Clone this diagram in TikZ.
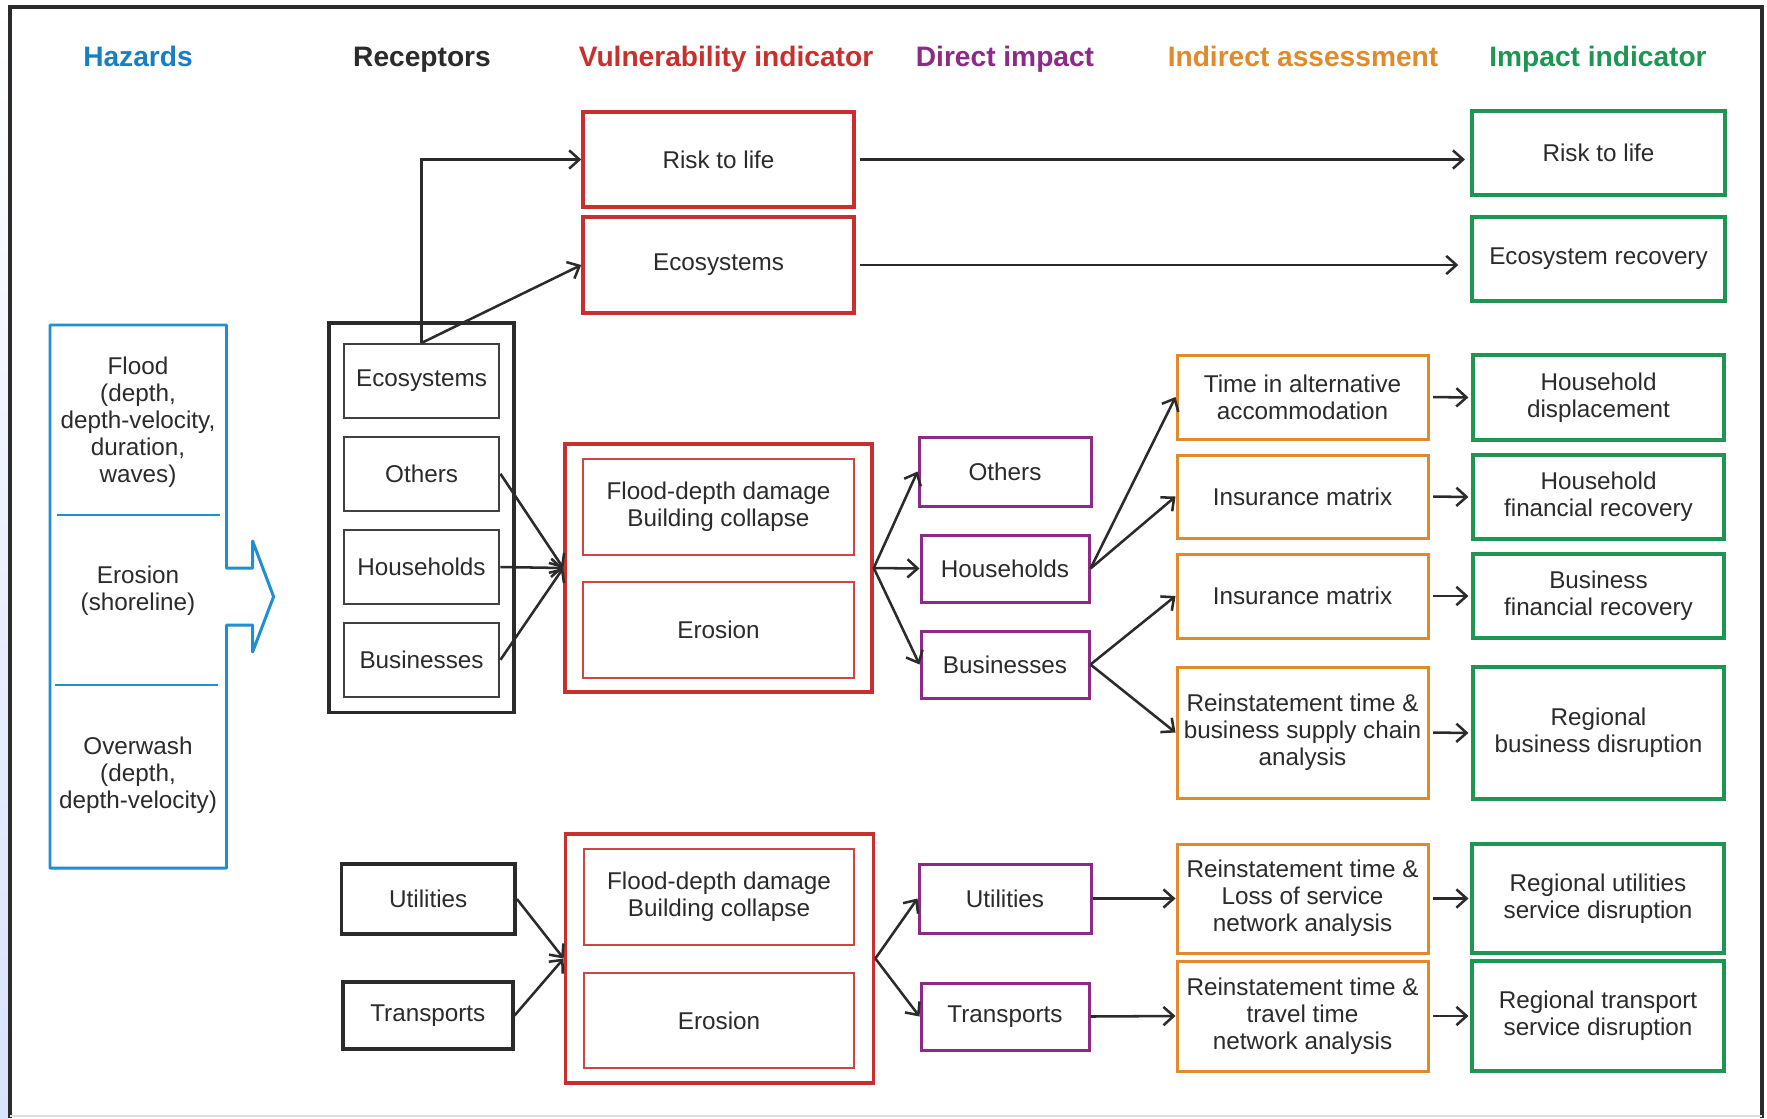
\documentclass[tikz,border=0pt]{standalone}
\usepackage{fontspec}
\setmainfont{Liberation Sans}
\usetikzlibrary{arrows.meta}

\definecolor{cblue}{HTML}{1F8FCF}
\definecolor{chead}{HTML}{1A7FC0}
\definecolor{cred}{HTML}{C8302F}
\definecolor{cpur}{HTML}{8B2A87}
\definecolor{cora}{HTML}{E08A2C}
\definecolor{cgrn}{HTML}{1E9552}
\definecolor{ctxt}{HTML}{2B2B2B}

\tikzset{
 base/.style={draw, inner sep=0pt, align=center, text=ctxt, font=\fontsize{6.9}{7.7}\selectfont},
 redout/.style={base, draw=cred, line width=1pt},
 redin/.style={base, draw=cred!90, line width=0.45pt},
 purbox/.style={base, draw=cpur, line width=0.85pt},
 orabox/.style={base, draw=cora, line width=0.85pt},
 grnbox/.style={base, draw=cgrn, line width=1pt},
 blkout/.style={base, draw=ctxt, line width=1.1pt},
 blkin/.style={base, draw=ctxt!90, line width=0.6pt},
 hztxt/.style={inner sep=0pt, align=center, text=ctxt, font=\fontsize{6.9}{7.7}\selectfont},
 head/.style={font=\fontsize{8}{9.6}\selectfont\bfseries, inner sep=0pt, anchor=base},
 conn/.style={draw=ctxt, line width=0.72pt, -{Straight Barb[length=2.9pt,width=5.2pt]}},
}

\newcommand\bx[7]{\node[#6, minimum width={(#4-(#2))*0.01cm}, minimum height={(#5-(#3))*0.01cm}] (#1) at ({(#2+#4)/2},{(#3+#5)/2}) {#7};}

\begin{document}
\begin{tikzpicture}[x=0.01cm, y=-0.01cm]
\useasboundingbox (0,0) rectangle (1767,1118);
\fill[white] (0,0) rectangle (1767,1118);
\shade[top color=white, bottom color=cyan!25!blue!15] (0,0) rectangle (8,1118);
\draw[line width=1.1pt, draw=ctxt] (10,1118) -- (10,7) -- (1762,7) -- (1762,1118);
\draw[line width=0.3pt, draw=gray!25] (10,1116) -- (1762,1116);

% headers
\node[head, text=chead] (hH) at (138,66) {Hazards};
\node[head, text=ctxt] (hR) at (422,66) {Receptors};
\node[head, text=cred] (hV) at (726,66) {Vulnerability indicator};
\node[head, text=cpur] (hD) at (1005,66) {Direct impact};
\node[head, text=cora] (hI) at (1303,66) {Indirect assessment};
\node[head, text=cgrn] (hM) at (1598,66) {Impact indicator};

% hazards block
\draw[cblue, line width=0.85pt, line join=round]
 (50,325) -- (226.5,325) -- (226.5,568) -- (252.6,568) -- (252.6,541) -- (273.6,596.6)
 -- (252.6,652) -- (252.6,625) -- (226.5,625) -- (226.5,868) -- (50,868) -- cycle;
\draw[cblue, line width=0.45pt] (57,515) -- (220,515);
\draw[cblue, line width=0.45pt] (55,685) -- (218,685);
\node[hztxt] (hz1) at (138,422) {Flood\\(depth,\\depth-velocity,\\duration,\\waves)};
\node[hztxt] (hz2) at (138,591) {Erosion\\(shoreline)};
\node[hztxt] (hz3) at (138,775) {Overwash\\(depth,\\depth-velocity)};

% top rows
\bx{vrisk}{583}{112}{854}{207}{redout}{Risk to life}
\bx{veco}{583}{217}{854}{313}{redout}{Ecosystems}
\bx{irisk}{1472}{111}{1725}{195}{grnbox}{Risk to life}
\bx{ieco}{1472}{217}{1725}{301}{grnbox}{Ecosystem recovery}

% receptors group
\bx{rgrp}{329}{323}{514}{712.5}{blkout}{}
\bx{reco}{343.7}{344}{499.4}{418}{blkin}{Ecosystems}
\bx{roth}{343.7}{436.6}{499.4}{511}{blkin}{Others}
\bx{rhou}{343.7}{530}{499.4}{604}{blkin}{Households}
\bx{rbus}{343.7}{622.6}{499.4}{697}{blkin}{Businesses}

% vulnerability group 1
\bx{vg1}{565}{444}{872}{692}{redout}{}
\bx{vfd1}{583}{459}{854}{555}{redin}{Flood-depth damage\\Building collapse}
\bx{ver1}{583}{582}{854}{678}{redin}{Erosion}

% direct impact 1
\bx{doth}{919}{437}{1091}{506}{purbox}{Others}
\bx{dhou}{921}{535}{1089}{602}{purbox}{Households}
\bx{dbus}{921}{631}{1089}{698}{purbox}{Businesses}

% indirect 1
\bx{ialt}{1177}{355}{1428}{439}{orabox}{Time in alternative\\accommodation}
\bx{iins1}{1177}{455}{1428}{538}{orabox}{Insurance matrix}
\bx{iins2}{1177}{554}{1428}{638}{orabox}{Insurance matrix}
\bx{isup}{1177}{667}{1428}{798}{orabox}{Reinstatement time \&\\business supply chain\\analysis}

% impact 1
\bx{ghd}{1473}{355}{1724}{440}{grnbox}{Household\\displacement}
\bx{ghf}{1473}{455}{1724}{539}{grnbox}{Household\\financial recovery}
\bx{gbf}{1473}{554}{1724}{638}{grnbox}{Business\\financial recovery}
\bx{grb}{1473}{667}{1724}{799}{grnbox}{Regional\\business disruption}

% bottom
\bx{rutil}{341.5}{864}{515}{934}{blkout}{Utilities}
\bx{rtran}{343}{982}{512.6}{1049}{blkout}{Transports}
\bx{vg2}{565.4}{834}{873.6}{1083}{redout}{}
\bx{vfd2}{584}{849}{854}{945}{redin}{Flood-depth damage\\Building collapse}
\bx{ver2}{584}{973}{854}{1068}{redin}{Erosion}
\bx{dutil}{919}{864}{1091}{933}{purbox}{Utilities}
\bx{dtran}{921}{983}{1089}{1050}{purbox}{Transports}
\bx{iutil}{1177}{844}{1428}{953}{orabox}{Reinstatement time \&\\Loss of service\\network analysis}
\bx{itran}{1177}{961}{1428}{1071}{orabox}{Reinstatement time \&\\travel time\\network analysis}
\bx{gutil}{1472}{844}{1724}{953}{grnbox}{Regional utilities\\service disruption}
\bx{gtran}{1472}{961}{1724}{1071}{grnbox}{Regional transport\\service disruption}

% connectors
\draw[conn] (reco.north) |- (vrisk.west);
\draw[conn] (reco.north) -- (veco.west);
\draw[conn, shorten <=1.3pt, shorten >=1.5pt] (vrisk.east) -- (vrisk.east -| irisk.west);
\draw[conn, shorten <=1.3pt, shorten >=3.4pt] (veco.east) -- (veco.east -| ieco.west);

\draw[conn] (roth.east) -- (vg1.west);
\draw[conn] (rhou.east) -- (vg1.west);
\draw[conn] (rbus.east) -- (vg1.west);
\draw[conn] (vg1.east) -- (doth.west);
\draw[conn] (vg1.east) -- (dhou.west);
\draw[conn] (vg1.east) -- (dbus.west);
\draw[conn] (dhou.east) -- (ialt.west);
\draw[conn] (dhou.east) -- (iins1.west);
\draw[conn] (dbus.east) -- (iins2.west);
\draw[conn] (dbus.east) -- (isup.west);
\draw[conn, shorten <=1pt, shorten >=0.8pt] (ialt.east) -- (ghd.west);
\draw[conn, shorten <=1pt, shorten >=0.8pt] (iins1.east) -- (ghf.west);
\draw[conn, shorten <=1pt, shorten >=0.8pt] (iins2.east) -- (gbf.west);
\draw[conn, shorten <=1pt, shorten >=0.8pt] (isup.east) -- (grb.west);

\draw[conn] (rutil.east) -- (vg2.west);
\draw[conn] (rtran.east) -- (vg2.west);
\draw[conn] (vg2.east) -- (dutil.west);
\draw[conn] (vg2.east) -- (dtran.west);
\draw[conn] (dutil.east) -- (iutil.west);
\draw[conn] (dtran.east) -- (itran.west);
\draw[conn, shorten <=1pt, shorten >=0.5pt] (iutil.east) -- (gutil.west);
\draw[conn, shorten <=1pt, shorten >=0.5pt] (itran.east) -- (gtran.west);
\end{tikzpicture}
\end{document}
